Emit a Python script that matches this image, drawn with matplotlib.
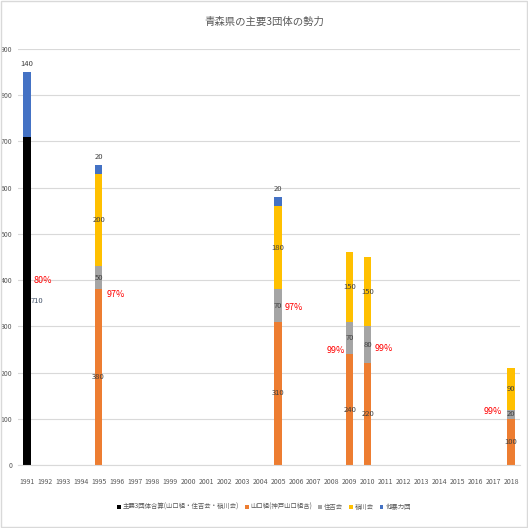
import matplotlib
matplotlib.use("Agg")
import matplotlib.pyplot as plt
from matplotlib.patches import Rectangle
import numpy as np

plt.rcParams['font.family'] = ['Noto Sans CJK JP', 'DejaVu Sans']

categories = ["1991", "1992", "1993", "1994", "1995", "1996", "1997", "1998", "1999",
              "2000", "2001", "2002", "2003", "2004", "2005", "2006", "2007", "2008",
              "2009", "2010", "2011", "2012", "2013", "2014", "2015", "2016", "2017", "2018"]
data_years = ["1991", "1995", "2005", "2009", "2010", "2018"]
major3 = [710, 0, 0, 0, 0, 0]
yamaguchi = [0, 380, 310, 240, 220, 100]
sumiyoshi = [0, 50, 70, 70, 80, 20]
inagawa = [0, 200, 180, 150, 150, 90]
others = [140, 20, 20, 0, 0, 0]
share = ["80%", "97%", "97%", "99%", "99%", "99%"]

series_names = ["主要3団体合算(山口組・住吉会・稲川会)", "山口組(神戸山口組含)", "住吉会", "稲川会", "他暴力団"]
colors = ["#000000", "#ED7D31", "#A5A5A5", "#FFC000", "#4472C4"]

# layout of the share annotations (offset from bar in category units, height in data units)
share_dx = [0.9, 0.96, 0.86, -0.77, 0.9, -1.04]
share_y = [400, 368, 340, 247, 253, 115]

fig = plt.figure(figsize=(5.28, 5.28), dpi=100)
ax = fig.add_axes([0.034, 0.1193, 0.951, 0.7879])

x = np.array([categories.index(y) for y in data_years])
width = 0.42
bottom = np.zeros(len(x))
all_series = [major3, yamaguchi, sumiyoshi, inagawa, others]
handles = []
for name, vals, col in zip(series_names, all_series, colors):
    v = np.array(vals, dtype=float)
    b = ax.bar(x, v, width, bottom=bottom, color=col, label=name, zorder=2)
    handles.append(b)
    for xi, vi, bi in zip(x, v, bottom):
        if vi <= 0:
            continue
        if name == series_names[0]:
            ax.text(xi + 0.55, bi + vi / 2, f"{int(vi)}", ha='center', va='center',
                    fontsize=5.5, color="#44546A")
        elif name == series_names[4]:
            ax.text(xi, bi + vi + 8, f"{int(vi)}", ha='center', va='bottom',
                    fontsize=5.5, color="#404040")
        else:
            ax.text(xi, bi + vi / 2, f"{int(vi)}", ha='center', va='center',
                    fontsize=5.5, color="#404040")
    bottom = bottom + v

for xi, s, dx, sy in zip(x, share, share_dx, share_y):
    ax.text(xi + dx, sy, s, ha='center', va='center', fontsize=6.5, color="#FF0000")

ax.set_xlim(-0.5, len(categories) - 0.5)
ax.set_ylim(0, 900)
ax.set_yticks(np.arange(0, 901, 100))
ax.set_xticks(np.arange(len(categories)))
ax.set_xticklabels(categories)
ax.tick_params(axis='both', length=0, labelsize=5, colors="#595959")
ax.tick_params(axis='x', pad=9)
ax.tick_params(axis='y', pad=4)
ax.grid(axis='y', color="#D9D9D9", linewidth=0.8, zorder=0)
ax.set_axisbelow(True)
for sp in ['top', 'right', 'left']:
    ax.spines[sp].set_visible(False)
ax.spines['bottom'].set_color("#D9D9D9")

fig.text(0.5, 0.958, "青森県の主要3団体の勢力", ha='center', va='center', fontsize=7.5, color="#595959")

leg = fig.legend(handles=handles, labels=series_names, loc='center', bbox_to_anchor=(0.5, 0.04),
                 ncol=5, frameon=False, fontsize=4.6, handlelength=0.6, handleheight=0.6,
                 handletextpad=0.3, columnspacing=0.9)
for t in leg.get_texts():
    t.set_color("#595959")

fig.patches.append(Rectangle((0.002, 0.002), 0.996, 0.996, transform=fig.transFigure,
                             fill=False, edgecolor="#D9D9D9", linewidth=1))

fig.savefig("out.png", dpi=100, facecolor="white")
